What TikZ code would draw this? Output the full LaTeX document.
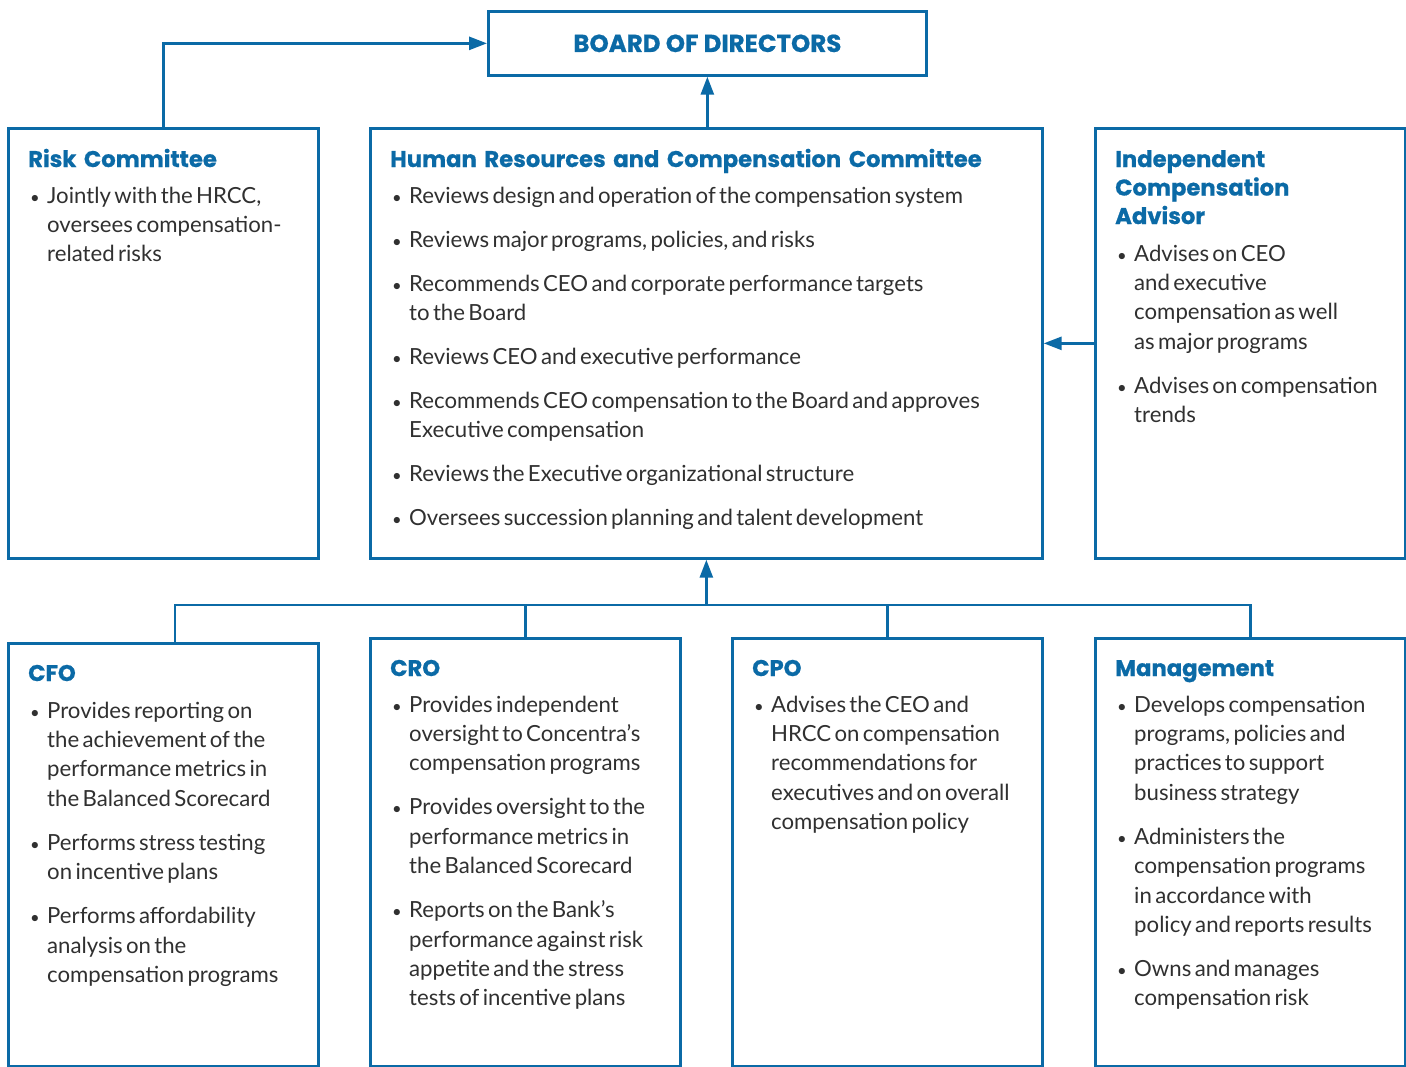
\documentclass[tikz,border=0pt]{standalone}
\usepackage{fontspec}
\setmainfont{Lato}
\newfontfamily\headfont{Poppins}[BoldFeatures={FakeBold=0.7}]
\usetikzlibrary{arrows.meta}
\definecolor{cblue}{RGB}{11,106,166}
\definecolor{ctext}{RGB}{48,48,48}

% bulleted paragraph with hanging indent; \bitem adds the gap before it
\newcommand{\bline}[1]{\hangindent=19pt\hangafter=1\noindent\makebox[19pt][l]{\hspace{2pt}\scalebox{0.75}{\textbullet}}#1\par}
\newcommand{\bitem}[1]{\vspace{14.6pt}\bline{#1}}
\newcommand{\bodyset}{\fontsize{22.2}{29.4}\selectfont\setlength{\parskip}{0pt}\raggedright}

\tikzset{
  frame/.style={draw=cblue, line width=2.7pt, inner sep=0pt, anchor=north west},
  head/.style={anchor=base west, inner sep=0pt, text=cblue, text width=640pt,
    font=\headfont\bfseries\fontsize{22.7}{28.5}\selectfont, align=left},
  body/.style={anchor=base west, inner sep=0pt, text=ctext, text width=640pt},
  link/.style={draw=cblue, line width=2.7pt},
  tip/.style={-{Triangle[length=18pt,width=13pt]}}
}

\begin{document}
\begin{tikzpicture}[x=1pt, y=-1pt]
\useasboundingbox (0,0) rectangle (1406,1066);
\fill[white] (0,0) rectangle (1406,1066);

% frames
\node[frame, minimum width=438pt, minimum height=64pt] (board) at (487,10) {};
\node[frame, minimum width=310pt, minimum height=430pt] (risk) at (7,127) {};
\node[frame, minimum width=672pt, minimum height=430pt] (hrcc) at (369,127) {};
\node[frame, minimum width=310pt, minimum height=430pt] (ica) at (1094,127) {};
\node[frame, minimum width=310pt, minimum height=422.5pt] (cfo) at (7,642) {};
\node[frame, minimum width=310pt, minimum height=427.5pt] (cro) at (369,637) {};
\node[frame, minimum width=310pt, minimum height=427.5pt] (cpo) at (731,637) {};
\node[frame, minimum width=310pt, minimum height=427.5pt] (mgmt) at (1094,637) {};

% board label
\node[text=cblue, font=\headfont\bfseries\fontsize{24.5}{26}\selectfont, inner sep=0pt] (boardtxt) at (board.center) {BOARD OF DIRECTORS};

% titles
\node[head] (risk-h) at (28,167) {Risk Committee};
\node[head] (hrcc-h) at (390,167) {Human Resources and Compensation Committee};
\node[head] (ica-h) at (1115,167) {Independent\\Compensation\\Advisor};
\node[head] (cfo-h) at (28,681) {CFO};
\node[head] (cro-h) at (390,676) {CRO};
\node[head] (cpo-h) at (752,676) {CPO};
\node[head] (mgmt-h) at (1115,676) {Management};

% bodies
\node[body] (risk-b) at (28,203) {\bodyset
  \bline{Jointly with the HRCC,\newline oversees compensation-\newline related risks}};
\node[body] (hrcc-b) at (390,203) {\bodyset
  \bline{Reviews design and operation of the compensation system}
  \bitem{Reviews major programs, policies, and risks}
  \bitem{Recommends CEO and corporate performance targets\newline to the Board}
  \bitem{Reviews CEO and executive performance}
  \bitem{Recommends CEO compensation to the Board and approves\newline Executive compensation}
  \bitem{Reviews the Executive organizational structure}
  \bitem{Oversees succession planning and talent development}};
\node[body] (ica-b) at (1115,261) {\bodyset
  \bline{Advises on CEO\newline and executive\newline compensation as well\newline as major programs}
  \bitem{Advises on compensation\newline trends}};
\node[body] (cfo-b) at (28,718) {\bodyset
  \bline{Provides reporting on\newline the achievement of the\newline performance metrics in\newline the Balanced Scorecard}
  \bitem{Performs stress testing\newline on incentive plans}
  \bitem{Performs affordability\newline analysis on the\newline compensation programs}};
\node[body] (cro-b) at (390,712) {\bodyset
  \bline{Provides independent\newline oversight to Concentra’s\newline compensation programs}
  \bitem{Provides oversight to the\newline performance metrics in\newline the Balanced Scorecard}
  \bitem{Reports on the Bank’s\newline performance against risk\newline appetite and the stress\newline tests of incentive plans}};
\node[body] (cpo-b) at (752,712) {\bodyset
  \bline{Advises the CEO and\newline HRCC on compensation\newline recommendations for\newline executives and on overall\newline compensation policy}};
\node[body] (mgmt-b) at (1115,712) {\bodyset
  \bline{Develops compensation\newline programs, policies and\newline practices to support\newline business strategy}
  \bitem{Administers the\newline compensation programs\newline in accordance with\newline policy and reports results}
  \bitem{Owns and manages\newline compensation risk}};

% connectors
\coordinate (bus) at (705,605);
\coordinate (cfo-top) at (175,642);
\draw[link, tip] (risk.north) |- (board.west);
\draw[link, tip] (board.south |- hrcc.north) -- (board.south);
\draw[link, tip] (ica.west) -- (hrcc.east);
\draw[link] (cfo-top) |- (mgmt.north |- bus) -- (mgmt.north);
\draw[link] (cro.north) -- (cro.north |- bus);
\draw[link] (cpo.north) -- (cpo.north |- bus);
\draw[link, tip] (hrcc.south |- bus) -- (hrcc.south);
\end{tikzpicture}
\end{document}
